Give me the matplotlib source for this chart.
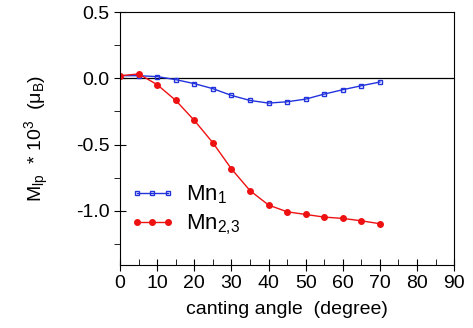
import matplotlib.pyplot as plt
from matplotlib.ticker import MultipleLocator

plt.rcParams['font.family'] = ['Liberation Sans', 'DejaVu Sans']
plt.rcParams['mathtext.default'] = 'regular'

# data
angle = [0, 5, 10, 15, 20, 25, 30, 35, 40, 45, 50, 55, 60, 65, 70]
mn1 = [0.02, 0.02, 0.013, -0.01, -0.04, -0.078, -0.129, -0.167, -0.187,
       -0.177, -0.157, -0.119, -0.086, -0.056, -0.028]
mn23 = [0.02, 0.033, -0.048, -0.167, -0.318, -0.487, -0.684, -0.848, -0.957,
        -1.008, -1.028, -1.048, -1.058, -1.076, -1.098]

fig = plt.figure(figsize=(4.73, 3.28), dpi=100)
ax = fig.add_axes([0.254, 0.192, 0.706, 0.771])

ax.axhline(0, color='black', lw=0.9)
ax.plot(angle, mn1, color='#2233dd', lw=1, marker='s', ms=3.5,
        mfc='none', mec='#2233dd', mew=1, label='Mn$_1$')
ax.plot(angle, mn23, color='#ee1111', lw=1, marker='o', ms=4,
        mfc='#ee1111', mec='#ee1111', label='Mn$_{2{,}3}$')

ax.set_xlim(0, 90)
ax.set_ylim(-1.41, 0.5)
ax.xaxis.set_major_locator(MultipleLocator(10))
ax.xaxis.set_minor_locator(MultipleLocator(5))
ax.yaxis.set_minor_locator(MultipleLocator(0.25))
ax.set_yticks([-1.0, -0.5, 0.0, 0.5])
ax.set_yticklabels(['-1.0', '-0.5', '0.0', '0.5'])
ax.tick_params(axis='x', which='major', direction='inout', length=8, labelsize=14)
ax.tick_params(axis='x', which='minor', direction='in', length=4)
ax.tick_params(axis='y', which='major', direction='inout', length=8, labelsize=14)
ax.tick_params(axis='y', which='minor', direction='out', length=4)

ax.set_xlabel('canting angle  (degree)', fontsize=14, labelpad=6)
ax.set_ylabel('M$_{lp}$  * 10$^3$  (μ$_B$)', fontsize=14, labelpad=18)

ax.legend(loc='lower left', bbox_to_anchor=(-0.03, 0.03), frameon=False,
          numpoints=3, handlelength=2.0, fontsize=16, labelspacing=0.3,
          handletextpad=0.5)

fig.savefig('out.png', dpi=100)
